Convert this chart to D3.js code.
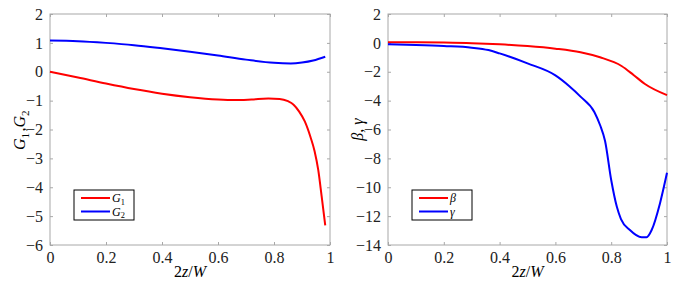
<!DOCTYPE html>
<html>
<head>
<meta charset="utf-8">
<script src="https://cdn.jsdelivr.net/npm/d3@7"></script>
<style>
  body { margin: 0; background: #fff; }
  .frame { fill: none; stroke: #a8a8a8; stroke-width: 1; }
  .tick line { stroke: #a8a8a8; }
</style>
</head>
<body>
<svg id="chart" width="681" height="290"></svg>
<script>
'use strict';
// x positions (2z/W) and values
const g1X = [0, 0.1, 0.2, 0.3, 0.4, 0.5, 0.6, 0.66, 0.72, 0.78, 0.82, 0.85, 0.87, 0.89, 0.91, 0.93, 0.945, 0.958, 0.97, 0.983]
const g1Y = [0, -0.2, -0.41, -0.6, -0.76, -0.88, -0.96, -0.98, -0.96, -0.93, -0.94, -1.02, -1.14, -1.38, -1.72, -2.25, -2.75, -3.4, -4.3, -5.32]
const g2X = [0, 0.1, 0.2, 0.3, 0.4, 0.5, 0.6, 0.7, 0.8, 0.86, 0.9, 0.94, 0.983]
const g2Y = [1.08, 1.06, 1.0, 0.92, 0.81, 0.69, 0.56, 0.42, 0.31, 0.29, 0.32, 0.39, 0.52]
const betaX = [0, 0.1, 0.2, 0.3, 0.4, 0.5, 0.6, 0.69, 0.76, 0.837, 0.88, 0.921, 1.0]
const betaY = [0.05, 0.04, 0.02, -0.02, -0.1, -0.22, -0.4, -0.65, -1.0, -1.6, -2.22, -2.85, -3.62]
const gammaX = [0, 0.1, 0.2, 0.3, 0.36, 0.4, 0.5, 0.6, 0.65, 0.69, 0.74, 0.76, 0.778, 0.8, 0.82, 0.835, 0.867, 0.909, 0.927, 0.945, 0.975, 1.0]
const gammaY = [-0.1, -0.15, -0.22, -0.33, -0.5, -0.73, -1.42, -2.25, -3.0, -3.72, -4.8, -5.69, -6.8, -9.5, -11.34, -12.2, -12.96, -13.46, -13.46, -12.96, -11.1, -9.0]
const xTicks = [0, 0.2, 0.4, 0.6, 0.8, 1]
const leftYTicks = [2, 1, 0, -1, -2, -3, -4, -5, -6]
const rightYTicks = [2, 0, -2, -4, -6, -8, -10, -12, -14]

const serif = "'Liberation Serif', 'DejaVu Serif', 'Noto Serif', 'Times New Roman', serif"
const svg = d3.select('#chart')
const plotTop = 14, plotBottom = 245

function sub(sel, main, idx, size) { // italic letter with upright subscript
    sel.append('tspan').style('font-style', 'italic').text(main)
    sel.append('tspan').attr('font-size', size * 0.7).attr('dy', size * 0.22).text(idx)
    sel.append('tspan').attr('font-size', size).attr('dy', -size * 0.22).text('\u200a')
}

function drawPanel(left, right, yDomain, yTicks, series, legend, ylabel) {
    const x = d3.scaleLinear().domain([0, 1]).range([left, right])
    const y = d3.scaleLinear().domain(yDomain).range([plotBottom, plotTop])
    const g = svg.append('g')
    const fmt = d => d === 0 ? '0' : d3.format('')(d).replace('-', '\u2212')
    g.append('g') // bottom axis
        .attr('transform', `translate(0,${plotBottom})`)
        .call(d3.axisBottom(x).tickValues(xTicks).tickSize(-3).tickPadding(7).tickFormat(fmt))
    g.append('g') // top ticks
        .attr('transform', `translate(0,${plotTop})`)
        .call(d3.axisTop(x).tickValues(xTicks).tickSize(-3).tickFormat(''))
    g.append('g') // left axis
        .attr('transform', `translate(${left},0)`)
        .call(d3.axisLeft(y).tickValues(yTicks).tickSize(-3).tickPadding(7).tickFormat(fmt))
    g.append('g') // right ticks
        .attr('transform', `translate(${right},0)`)
        .call(d3.axisRight(y).tickValues(yTicks).tickSize(-3).tickFormat(''))
    g.selectAll('.domain').remove()
    g.selectAll('.tick text').attr('font-size', 16).attr('fill', '#222')
    g.append('rect').attr('class', 'frame')
        .attr('x', left).attr('y', plotTop).attr('width', right - left).attr('height', plotBottom - plotTop)

    const line = d3.line().curve(d3.curveMonotoneX)
        .x(d => x(d[0])).y(d => y(d[1]))
    series.forEach(s => {
        g.append('path').datum(d3.zip(s.xs, s.ys))
            .attr('fill', 'none').attr('stroke', s.color).attr('stroke-width', 2)
            .attr('d', line)
    })

    // legend
    const lx = left + 24, ly = 190
    g.append('rect').attr('x', lx).attr('y', ly).attr('width', 60).attr('height', 30)
        .attr('fill', '#fff').attr('stroke', '#000').attr('stroke-width', 1)
    series.forEach((s, i) => {
        const yy = ly + 8 + i * 13.5
        g.append('line').attr('x1', lx + 7).attr('x2', lx + 36).attr('y1', yy).attr('y2', yy)
            .attr('stroke', s.color).attr('stroke-width', 2)
        const t = g.append('text').attr('x', lx + 38).attr('y', yy + 4).attr('font-size', 12)
        legend[i](t)
    })

    // x label
    const xl = g.append('text').attr('x', (left + right) / 2).attr('y', 277)
        .attr('text-anchor', 'middle').attr('font-size', 16)
    xl.append('tspan').text('2')
    xl.append('tspan').style('font-style', 'italic').text('z')
    xl.append('tspan').text('/')
    xl.append('tspan').style('font-style', 'italic').text('W')

    // y label
    const yl = g.append('text')
        .attr('transform', `translate(${left - 25},${(plotTop + plotBottom) / 2}) rotate(-90)`)
        .attr('text-anchor', 'middle').attr('font-size', 16)
    ylabel(yl)
}

drawPanel(50, 330, [-6, 2], leftYTicks,
    [{ xs: g1X, ys: g1Y, color: '#ff0000' }, { xs: g2X, ys: g2Y, color: '#0000ff' }],
    [t => sub(t, 'G', '1', 12), t => sub(t, 'G', '2', 12)],
    t => { sub(t, 'G', '1', 16); t.append('tspan').text(','); sub(t, 'G', '2', 16) })

drawPanel(388, 667, [-14, 2], rightYTicks,
    [{ xs: betaX, ys: betaY, color: '#ff0000' }, { xs: gammaX, ys: gammaY, color: '#0000ff' }],
    [t => t.append('tspan').style('font-style', 'italic').text('\u03b2'),
     t => t.append('tspan').style('font-style', 'italic').text('\u03b3')],
    t => {
        t.append('tspan').style('font-style', 'italic').text('\u03b2')
        t.append('tspan').text(', ')
        t.append('tspan').style('font-style', 'italic').text('\u03b3')
    })

svg.selectAll('text').attr('font-family', serif).style('font-family', serif)
</script>
</body>
</html>
